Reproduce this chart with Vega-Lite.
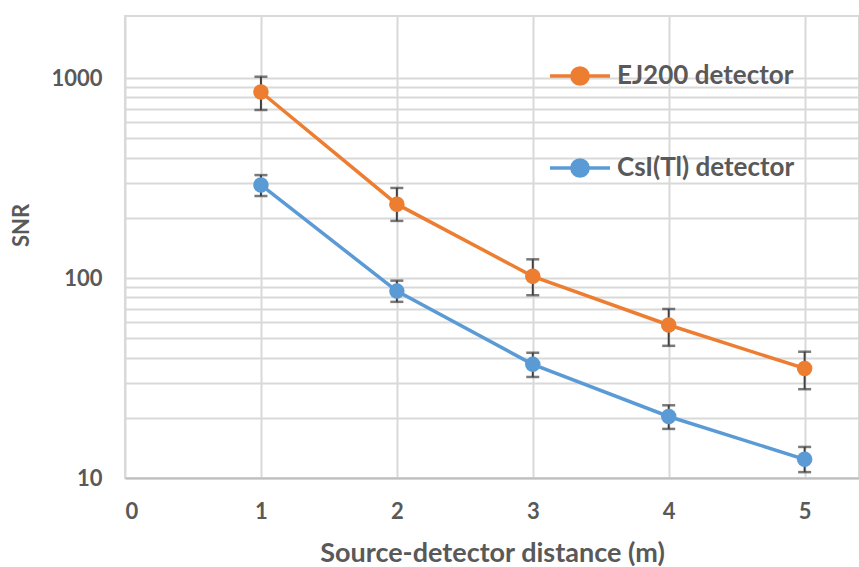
{
  "$schema": "https://vega.github.io/schema/vega-lite/v6.json",
  "width": 734,
  "height": 462,
  "autosize": {"type": "none"},
  "padding": {"left": 125, "top": 16, "right": 0, "bottom": 89},
  "background": "white",
  "config": {
    "view": {"stroke": "#d9d9d9", "strokeWidth": 2},
    "font": "Lato",
    "axis": {
      "labelFont": "Lato",
      "labelFontWeight": "bold",
      "labelColor": "#595959",
      "labelFontSize": 22,
      "titleFont": "Lato",
      "titleFontWeight": "bold",
      "titleColor": "#595959",
      "gridColor": "#d9d9d9",
      "gridWidth": 2,
      "ticks": false
    }
  },
  "data": {
    "values": [
      {"series": "EJ200 detector", "distance": 1, "snr": 851, "lo": 692, "hi": 1015},
      {"series": "EJ200 detector", "distance": 2, "snr": 234, "lo": 193, "hi": 282},
      {"series": "EJ200 detector", "distance": 3, "snr": 102, "lo": 82, "hi": 124},
      {"series": "EJ200 detector", "distance": 4, "snr": 58.2, "lo": 45.8, "hi": 70},
      {"series": "EJ200 detector", "distance": 5, "snr": 35.3, "lo": 27.8, "hi": 42.8},
      {"series": "CsI(Tl) detector", "distance": 1, "snr": 292, "lo": 257, "hi": 327},
      {"series": "CsI(Tl) detector", "distance": 2, "snr": 86, "lo": 76, "hi": 97},
      {"series": "CsI(Tl) detector", "distance": 3, "snr": 37, "lo": 32, "hi": 42.3},
      {"series": "CsI(Tl) detector", "distance": 4, "snr": 20.3, "lo": 17.6, "hi": 23.1},
      {"series": "CsI(Tl) detector", "distance": 5, "snr": 12.4, "lo": 10.7, "hi": 14.3}
    ]
  },
  "encoding": {
    "x": {
      "field": "distance",
      "type": "quantitative",
      "scale": {"domain": [0, 5.4], "nice": false, "zero": false},
      "axis": {
        "title": "Source-detector distance (m)",
        "titleFontSize": 27,
        "values": [0, 1, 2, 3, 4, 5],
        "labelPadding": 23,
        "titlePadding": 18,
        "domainColor": "#bfbfbf",
        "domainWidth": 2
      }
    },
    "y": {
      "field": "snr",
      "type": "quantitative",
      "scale": {"type": "log", "domain": [10, 2042], "nice": false},
      "axis": {
        "title": "SNR",
        "titleFontSize": 22,
        "values": [10, 20, 30, 40, 50, 60, 70, 80, 90, 100, 200, 300, 400, 500, 600, 700, 800, 900, 1000],
        "format": "d",
        "labelExpr": "datum.value == 10 || datum.value == 100 || datum.value == 1000 ? datum.label : ''",
        "labelPadding": 23,
        "titlePadding": 17,
        "titleY": 209,
        "domain": false
      }
    }
  },
  "layer": [
    {
      "mark": {"type": "errorbar", "ticks": {"size": 13, "thickness": 2.5}, "rule": {"strokeWidth": 2}, "color": "#404040"},
      "encoding": {
        "y": {"field": "lo", "type": "quantitative"},
        "y2": {"field": "hi"},
        "detail": {"field": "series"}
      }
    },
    {
      "mark": {"type": "line", "strokeWidth": 3.5},
      "encoding": {
        "color": {
          "field": "series",
          "type": "nominal",
          "scale": {"domain": ["EJ200 detector", "CsI(Tl) detector"], "range": ["#ED7D31", "#5B9BD5"]},
          "sort": ["EJ200 detector", "CsI(Tl) detector"],
          "legend": {
            "title": null,
            "orient": "none",
            "legendX": 423,
            "legendY": 28,
            "padding": 0,
            "symbolType": "M-1,0L1,0M-0.27,0A0.27,0.27 0 1 1 0.27,0A0.27,0.27 0 1 1 -0.27,0Z",
            "symbolSize": 3600,
            "symbolStrokeWidth": 3.5,
            "symbolOpacity": 1,
            "rowPadding": 44,
            "labelOffset": 5,
            "labelFont": "Lato",
            "labelFontSize": 26,
            "labelFontWeight": "bold",
            "labelColor": "#595959",
            "labelLimit": 300
          }
        }
      }
    },
    {
      "mark": {"type": "point", "filled": true, "size": 240, "opacity": 1},
      "encoding": {
        "color": {
          "field": "series",
          "type": "nominal",
          "scale": {"domain": ["EJ200 detector", "CsI(Tl) detector"], "range": ["#ED7D31", "#5B9BD5"]},
          "legend": null
        }
      }
    }
  ]
}
